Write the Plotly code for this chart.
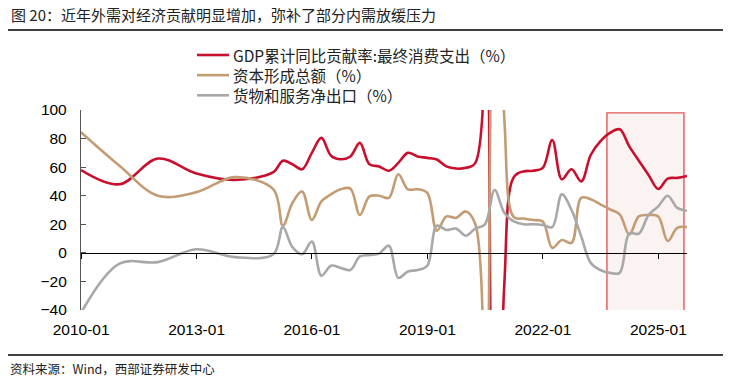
import plotly.graph_objects as go

# ---------------- data ----------------
periods = [
    "2009-12-31", "2010-12-31", "2011-12-31", "2012-12-31", "2013-12-31", "2014-12-31",
    "2015-03-31", "2015-06-30", "2015-09-30", "2015-12-31",
    "2016-03-31", "2016-06-30", "2016-09-30", "2016-12-31",
    "2017-03-31", "2017-06-30", "2017-09-30", "2017-12-31",
    "2018-03-31", "2018-06-30", "2018-09-30", "2018-12-31",
    "2019-03-31", "2019-06-30", "2019-09-30", "2019-12-31",
    "2020-03-31", "2020-06-30", "2020-09-30", "2020-12-31",
    "2021-03-31", "2021-06-30", "2021-09-30", "2021-12-31",
    "2022-03-31", "2022-06-30", "2022-09-30", "2022-12-31",
    "2023-03-31", "2023-06-30", "2023-09-30", "2023-12-31",
    "2024-03-31", "2024-06-30", "2024-09-30", "2024-12-31",
    "2025-03-31", "2025-06-30", "2025-09-30",
]

consumption = [
    58, 48, 66, 55.5, 51, 56.5,
    64.5, 62, 58.5, 70,
    80.5, 68, 65.5, 67.5,
    77, 62, 60.5, 57.5,
    63, 70, 67.5, 66.5,
    65.3, 60.5, 59, 59.5,
    63, 340, -300, -22,
    53, 57, 57.5, 59.5,
    79, 51.5, 58.5, 50,
    68.5, 78, 84, 86.5,
    74.5, 64.5, 54.5, 44.8,
    52, 52.5, 53.8,
]

capital = [
    84.5, 61, 40, 42.5, 53, 44.5,
    19, 35, 43, 23,
    36, 41, 44.5, 45,
    26.5, 39.5, 40, 38.5,
    55, 44.5, 44.5, 42,
    15.5, 25.5, 24.5, 29,
    20, -240, 300, 94,
    25, 24, 23, 22,
    3.5, 9, 7, 38.5,
    37.5, 34, 30.5, 27,
    12.8, 25.5, 26.5, 25.5,
    8.3, 17.5, 18,
]

net_exports = [
    -42, -7.5, -6.5, 2.5, -3, -1,
    18, 4, -1, 8,
    -16, -9, -10.5, -12,
    -2.5, -1.5, -0.5, 5,
    -17.5, -13, -12, -9,
    19, 16, 17, 12,
    17, 20, 44, 28,
    22, 20, 20, 19.5,
    18, 41, 30, 11.5,
    -7, -12, -14, -14,
    13.5, 13.5, 26.5, 32.5,
    40, 31.5, 29.5,
]

series_names = [
    "GDP累计同比贡献率:最终消费支出（%）",
    "资本形成总额（%）",
    "货物和服务净出口（%）",
]
series_colors = ["#C8102E", "#C49C74", "#A8A8A8"]

y_ticks = [-40, -20, 0, 20, 40, 60, 80, 100]
highlight_period = ["2023-09-01", "2025-09-01"]
highlight_range = [-40.5, 98]

title_text = "图 20：近年外需对经济贡献明显增加，弥补了部分内需放缓压力"
source_text = "资料来源：Wind，西部证券研发中心"

# ---------------- layout geometry (reference pixel coords) ----------------
W, H = 731, 382
L, R, T, B = 81, 44, 110, 72
PW, PH = W - L - R, H - T - B


def px_x(px):
    return (px - L) / PW


def px_y(py):
    return (H - B - py) / PH


FONT = "Liberation Sans, Arial, Noto Sans CJK SC, sans-serif"
CJK = "Noto Sans CJK SC, Liberation Sans, sans-serif"

fig = go.Figure()
for name, vals, col in zip(series_names, [consumption, capital, net_exports], series_colors):
    fig.add_trace(go.Scatter(
        x=periods, y=vals, name=name, mode="lines",
        line=dict(color=col, width=2.6, shape="spline", smoothing=1.0),
        showlegend=False,
    ))

fig.add_shape(type="rect", xref="x", yref="y",
              x0=highlight_period[0], x1=highlight_period[1],
              y0=highlight_range[0], y1=highlight_range[1],
              fillcolor="rgba(246,226,226,0.45)",
              line=dict(color="#E05A5A", width=1.4), layer="below")

# legend drawn by hand: one multi-line label block plus line samples
LEG_FONT = 15.5
LEG_STEP = LEG_FONT * 1.3
LEG_TOP = 55
for i, col in enumerate(series_colors):
    yy = LEG_TOP + LEG_STEP * i
    fig.add_shape(type="line", xref="paper", yref="paper",
                  x0=px_x(197), x1=px_x(229), y0=px_y(yy), y1=px_y(yy),
                  line=dict(color=col, width=2.6))
fig.add_annotation(text="<br>".join(series_names), xref="paper", yref="paper",
                   x=px_x(232), y=px_y(LEG_TOP + LEG_STEP), xanchor="left", yanchor="middle",
                   align="left", showarrow=False, borderpad=0,
                   font=dict(family=CJK, size=LEG_FONT, color="#222222"))

# title rule and bottom rule
fig.add_shape(type="line", xref="paper", yref="paper",
              x0=px_x(8), x1=px_x(723), y0=px_y(30), y1=px_y(30),
              line=dict(color="black", width=1.3))
fig.add_shape(type="line", xref="paper", yref="paper",
              x0=px_x(8), x1=px_x(723), y0=px_y(355), y1=px_y(355),
              line=dict(color="black", width=1.3))

fig.add_annotation(text=source_text, xref="paper", yref="paper",
                   x=px_x(9), y=px_y(368), xanchor="left", yanchor="middle",
                   showarrow=False, borderpad=0,
                   font=dict(family=CJK, size=12.5, color="#222222"))

fig.add_annotation(text=title_text, xref="paper", yref="paper",
                   x=px_x(10), y=px_y(15), xanchor="left", yanchor="middle",
                   showarrow=False, borderpad=0,
                   font=dict(family=CJK, size=15, color="#222222"))

zero_frac = (0 - (-40)) / 140

fig.update_layout(
    width=W, height=H,
    margin=dict(l=L, r=R, t=T, b=B, pad=0),
    paper_bgcolor="white", plot_bgcolor="white",
    showlegend=False,
    xaxis=dict(
        type="date", range=[periods[0], periods[-1]],
        tick0="2010-01-01", dtick="M36", tickformat="%Y-%m",
        showgrid=False, zeroline=False, showline=False, ticks="",
        tickfont=dict(family=FONT, size=15.5, color="black"),
        ticklabelstandoff=8,
    ),
    xaxis2=dict(
        type="date", overlaying="x", matches="x", anchor="free", position=zero_frac,
        tick0="2010-01-01", dtick="M36",
        showgrid=False, zeroline=False, showline=True, linecolor="black", linewidth=1.3,
        ticks="outside", ticklen=5, tickcolor="black", tickwidth=1.2,
        showticklabels=False,
    ),
    yaxis=dict(
        range=[-40, 100], tickvals=y_ticks,
        showgrid=False, zeroline=False, showline=True, linecolor="#555555", linewidth=1.3,
        ticks="inside", ticklen=5, tickcolor="#555555", tickwidth=1.2,
        tickfont=dict(family=FONT, size=15.5, color="black"),
        ticklabelstandoff=10,
    ),
)
fig.add_trace(go.Scatter(x=[], y=[], xaxis="x2", yaxis="y", showlegend=False, hoverinfo="skip"))

fig.write_html("out.html",
               config={"displayModeBar": False},
               post_script="document.body.style.margin='0';document.body.style.padding='0';")
